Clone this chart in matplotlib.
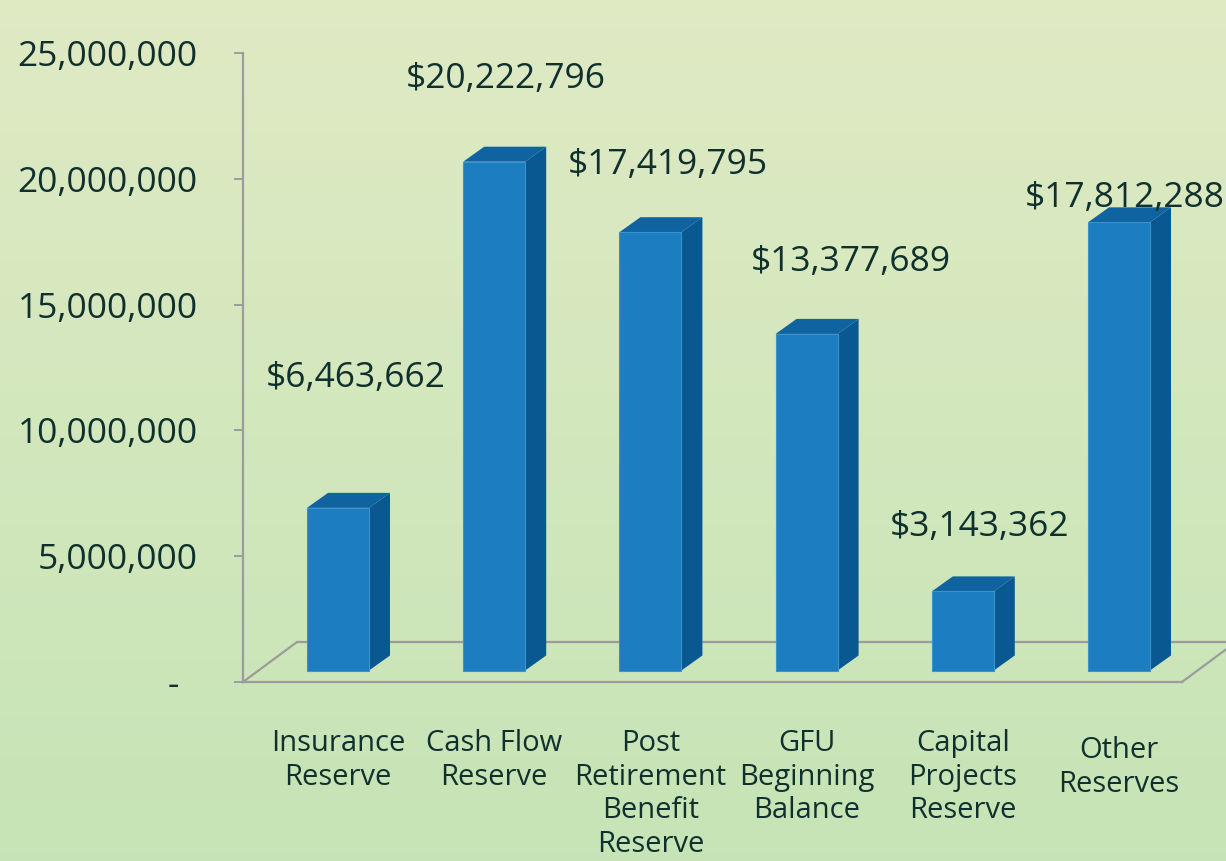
import numpy as np
import matplotlib
matplotlib.use("Agg")
import matplotlib.pyplot as plt
from matplotlib.patches import Polygon, Rectangle

# data
categories = ["Insurance\nReserve", "Cash Flow\nReserve", "Post\nRetirement\nBenefit\nReserve",
              "GFU\nBeginning\nBalance", "Capital\nProjects\nReserve", "Other\nReserves"]
values = [6463662, 20222796, 17419795, 13377689, 3143362, 17812288]
value_labels = ["$6,463,662", "$20,222,796", "$17,419,795", "$13,377,689", "$3,143,362", "$17,812,288"]
y_ticks = [0, 5000000, 10000000, 15000000, 20000000, 25000000]
y_tick_labels = ["-  ", "5,000,000", "10,000,000", "15,000,000", "20,000,000", "25,000,000"]

W, H = 1226, 861
plt.rcParams['font.family'] = ['Open Sans', 'DejaVu Sans']
txt_col = '#10302e'

fig = plt.figure(figsize=(W / 100, H / 100), dpi=100)

# background gradient
bg = fig.add_axes([0, 0, 1, 1], zorder=-10)
top = np.array([0.878, 0.918, 0.768])
bot = np.array([0.776, 0.894, 0.714])
t = np.linspace(0, 1, 256)[:, None]
grad = top[None, :] * (1 - t) + bot[None, :] * t
bg.imshow(grad[:, None, :], aspect='auto', extent=[0, 1, 0, 1])
bg.axis('off')

# plot area in pixels (from top-left)
ax_l, ax_r, ax_b, ax_t = 243, 1226, 682, 53
step = 156.2          # px between bars
c0 = 338              # px centre of first bar
ax = fig.add_axes([ax_l / W, (H - ax_b) / H, (ax_r - ax_l) / W, (ax_b - ax_t) / H])
ax.patch.set_alpha(0)
x0, x1 = -(c0 - ax_l) / step, (ax_r - c0) / step
ax.set_xlim(x0, x1)
ax.set_ylim(0, 25e6)

px_x = lambda p: p / step
px_y = lambda p: p * 25e6 / (ax_b - ax_t)

grey = '#9c9c9c'
# floor
fdx, fdy = px_x(54), px_y(40)
front_end = px_x(1182 - c0)
ax.plot([x0, front_end], [0, 0], color=grey, lw=1.6, clip_on=False, zorder=1)
ax.plot([x0, x0 + fdx, front_end + fdx + 1], [0, fdy, fdy], color=grey, lw=1.6, clip_on=False, zorder=1)
ax.plot([front_end, front_end + fdx], [0, fdy], color=grey, lw=1.6, clip_on=False, zorder=1)

# bars
bw = px_x(62)
bdx, bdy = px_x(21), px_y(15)
base = px_y(11.5)
front_c, side_c, top_c = '#1c7ec0', '#0a5891', '#0e63a0'
for i, v in enumerate(values):
    xl, xr = i - bw / 2, i + bw / 2
    yb, yt = base, base + v
    ax.add_patch(Polygon([(xr, yb), (xr + bdx, yb + bdy), (xr + bdx, yt + bdy), (xr, yt)],
                         closed=True, fc=side_c, ec='none', zorder=3))
    ax.add_patch(Polygon([(xl, yt), (xl + bdx, yt + bdy), (xr + bdx, yt + bdy), (xr, yt)],
                         closed=True, fc=top_c, ec='none', zorder=3))
    ax.add_patch(Rectangle((xl, yb), bw, v, fc=front_c, ec='#3b93cd', lw=0.8, zorder=4))

# value labels (offsets in px from front top of bar)
label_off = [(18, 130), (12, 83), (17, 67), (44, 72), (17, 64), (6, 24)]
for i, (v, lab) in enumerate(zip(values, value_labels)):
    ax.annotate(lab, xy=(i, base + v), xytext=label_off[i], textcoords='offset pixels',
                ha='center', va='center', fontsize=25.5, color=txt_col, annotation_clip=False)

# category labels
cat_off = [-47, -47, -47, -47, -47, -54]
for i, c in enumerate(categories):
    ax.annotate(c, xy=(i, 0), xytext=(0, cat_off[i]), textcoords='offset pixels',
                ha='center', va='top', fontsize=21, color=txt_col, linespacing=1.21,
                multialignment='center', annotation_clip=False)

# axes styling
for s in ['top', 'right', 'bottom']:
    ax.spines[s].set_visible(False)
ax.spines['left'].set_color(grey)
ax.spines['left'].set_linewidth(1.6)
ax.set_xticks([])
ax.set_yticks(y_ticks)
ax.set_yticklabels(y_tick_labels)
ax.tick_params(axis='y', direction='out', length=6.5, width=1.4, color=grey,
               pad=26, labelsize=25.5, labelcolor=txt_col)

fig.savefig('out.png', dpi=100)
